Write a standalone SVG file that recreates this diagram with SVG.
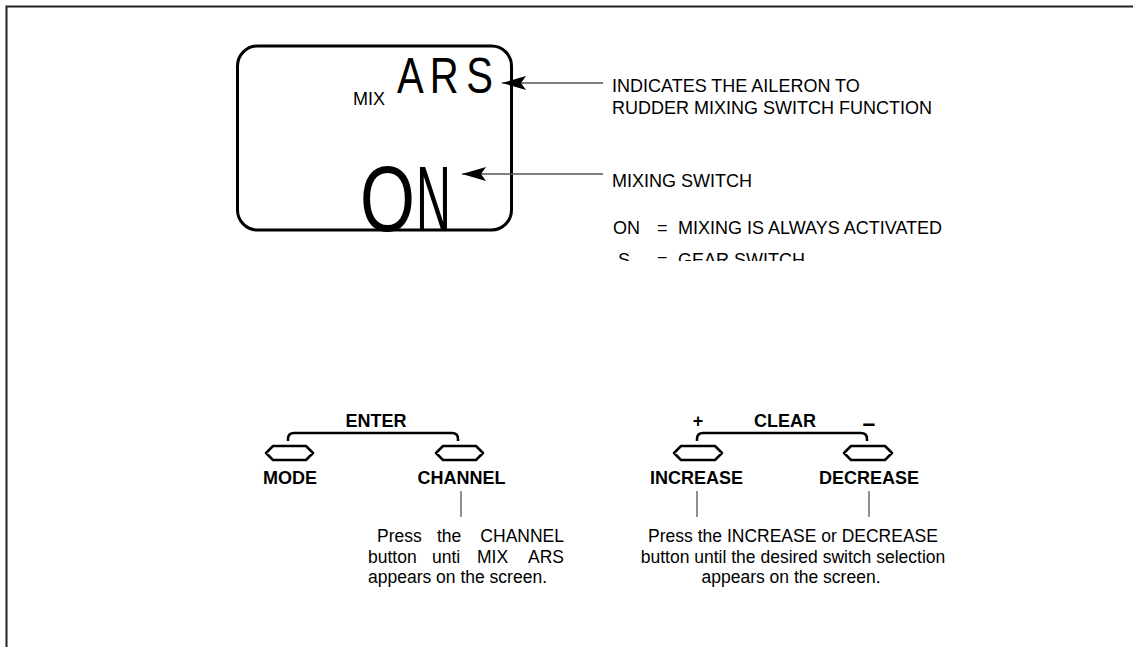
<svg xmlns="http://www.w3.org/2000/svg" width="1133" height="647" viewBox="0 0 1133 647">
<style>
.t{font-family:"Liberation Sans",Arial,sans-serif;fill:#000}
.b{font-weight:bold;font-size:18px;text-anchor:middle}
.n{font-size:18px}
.p{font-size:17.5px}
.btn{fill:#fff;stroke:#000;stroke-width:2.5;stroke-linejoin:round}
.br{fill:none;stroke:#000;stroke-width:2.5}
.ld{stroke:#444;stroke-width:1.2}
.ar{stroke:#555;stroke-width:1.3;fill:none;marker-end:url(#ah)}
</style>
<defs>
<marker id="ah" markerUnits="userSpaceOnUse" markerWidth="26" markerHeight="16" refX="0" refY="0" orient="auto" viewBox="-25 -8 26 16">
<path d="M0,0 L-24,-7 L-19,0 L-24,7 Z" fill="#000"/>
</marker>
<clipPath id="cl"><rect x="600" y="240" width="400" height="21"/></clipPath>
</defs>
<rect width="1133" height="647" fill="#fff"/>
<g id="frame">
<path d="M6.5,647 V6.5 H1133" fill="none" stroke="#222" stroke-width="2"/>
</g>
<g id="screen">
<rect x="237.5" y="46" width="274" height="184" rx="20" ry="20" fill="none" stroke="#000" stroke-width="3"/>
<text class="t" x="353" y="105" font-size="18">MIX</text>
<g transform="scale(0.8,1)" class="t" font-size="50">
<text x="496.25" y="93">A</text>
<text x="537.25" y="93">R</text>
<text x="582.75" y="93">S</text>
</g>
<text class="t" font-size="93" transform="translate(360,231) scale(0.76,1)" x="0" y="0">O</text>
<text class="t" font-size="93" transform="translate(416,231) scale(0.52,1)" x="0" y="0">N</text>
</g>
<g id="connectors">
<line class="ar" x1="603" y1="83" x2="502" y2="83"/>
<line class="ar" x1="603" y1="174" x2="462" y2="174"/>
<path class="br" d="M288,441 V439 Q288,433 294,433 H452 Q458,433 458,439 V441"/>
<path class="br" d="M697,441 V439 Q697,433 703,433 H861 Q867,433 867,439 V441"/>
<line class="ld" x1="461" y1="491" x2="461" y2="517"/>
<line class="ld" x1="697" y1="491" x2="697" y2="517"/>
<line class="ld" x1="869" y1="491" x2="869" y2="517"/>
</g>
<g id="label-ars">
<text class="t n" x="612" y="92">INDICATES THE AILERON TO</text>
<text class="t n" x="612" y="114">RUDDER MIXING SWITCH FUNCTION</text>
</g>
<g id="label-switch">
<text class="t n" x="612" y="187">MIXING SWITCH</text>
<text class="t n" y="234"><tspan x="613">ON</tspan><tspan x="657">=</tspan><tspan x="678">MIXING IS ALWAYS ACTIVATED</tspan></text>
<text class="t n" y="266" clip-path="url(#cl)"><tspan x="618">S</tspan><tspan x="657">=</tspan><tspan x="678">GEAR SWITCH</tspan></text>
</g>
<g id="mode">
<polygon class="btn" points="266,453 273,446 306,446 313,453 306,460 273,460"/>
<text class="t b" x="290" y="484">MODE</text>
</g>
<g id="channel">
<polygon class="btn" points="436,453 443,446 476,446 483,453 476,460 443,460"/>
<text class="t b" x="461.5" y="484">CHANNEL</text>
</g>
<g id="enter">
<text class="t b" x="376" y="427">ENTER</text>
</g>
<g id="increase">
<polygon class="btn" points="674,453 681,446 715,446 722,453 715,460 681,460"/>
<text class="t b" x="696.5" y="484">INCREASE</text>
</g>
<g id="decrease">
<polygon class="btn" points="844,453 851,446 885,446 892,453 885,460 851,460"/>
<text class="t b" x="869" y="484">DECREASE</text>
</g>
<g id="clear">
<text class="t b" x="698" y="427">+</text>
<text class="t b" x="785" y="427">CLEAR</text>
<text class="t b" x="869" y="431" style="font-size:23px">–</text>
</g>
<g id="note-channel">
<text class="t p" y="542"><tspan x="377">Press</tspan><tspan x="437">the</tspan><tspan x="564" text-anchor="end">CHANNEL</tspan></text>
<text class="t p" y="563"><tspan x="368">button</tspan><tspan x="432">unti</tspan><tspan x="477">MIX</tspan><tspan x="564" text-anchor="end">ARS</tspan></text>
<text class="t p" x="368" y="583">appears on the screen.</text>
</g>
<g id="note-increase">
<text class="t p" x="793" y="542" text-anchor="middle">Press the INCREASE or DECREASE</text>
<text class="t p" x="793" y="563" text-anchor="middle">button until the desired switch selection</text>
<text class="t p" x="791" y="583" text-anchor="middle">appears on the screen.</text>
</g>
</svg>
